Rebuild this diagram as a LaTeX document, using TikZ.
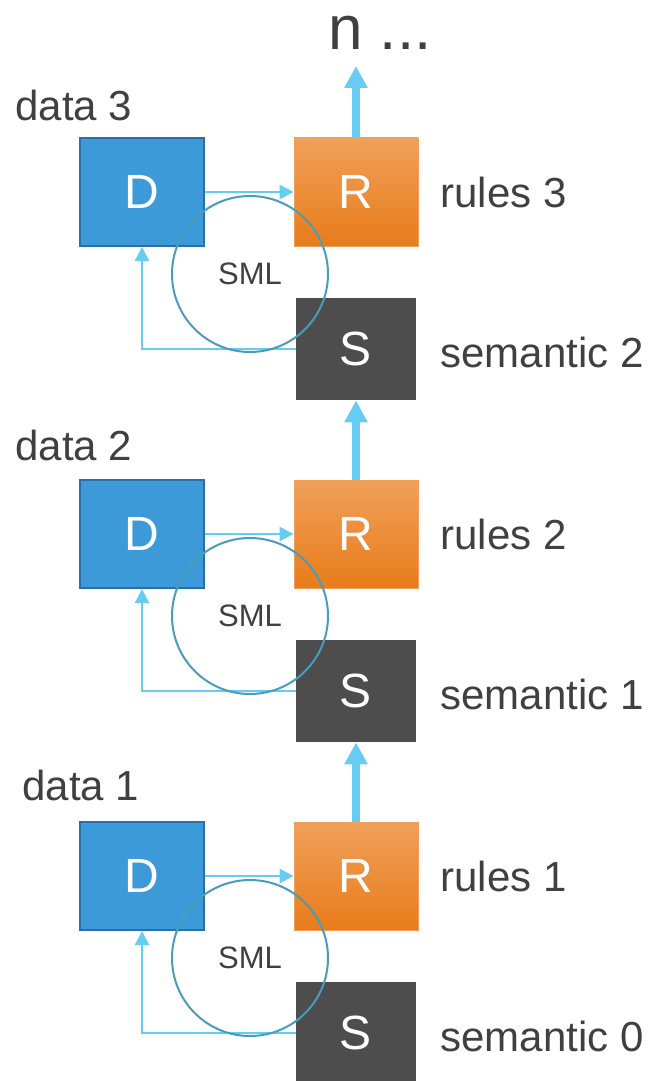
\documentclass[tikz,border=0pt]{standalone}
\usepackage{fontspec}
\setmainfont{Liberation Sans}
\usetikzlibrary{arrows.meta}
\definecolor{dblue}{HTML}{3D9AD9}
\definecolor{dblueline}{HTML}{2B6EA8}
\definecolor{rtop}{HTML}{F0A05A}
\definecolor{rbot}{HTML}{E87C1A}
\definecolor{sgray}{HTML}{4D4D4D}
\definecolor{flow}{HTML}{66CCF2}
\definecolor{smlring}{HTML}{4A9CBA}
\definecolor{txt}{HTML}{404040}
\tikzset{
  box/.style={minimum width=62pt, minimum height=54pt, inner sep=0pt,
              text=white, font=\fontsize{24}{24}\selectfont},
  dbox/.style={box, fill=dblue, draw=dblueline, line width=1pt},
  rbox/.style={box, top color=rtop, bottom color=rbot, draw=rtop},
  sbox/.style={box, fill=sgray, minimum width=60pt, minimum height=51pt},
  lbl/.style={anchor=west, text=txt, inner sep=0pt,
              font=\fontsize{21}{21}\selectfont},
  ring/.style={circle, draw=smlring, line width=1pt, minimum size=78pt,
               inner sep=0pt, text=txt, font=\fontsize{15.5}{15.5}\selectfont},
  thinflow/.style={draw=flow, line width=1.2pt,
                   -{Triangle[length=7pt, width=7pt]}},
  upflow/.style={draw=flow, line width=4pt,
                 -{Triangle[length=11pt, width=11pt]}},
}
\begin{document}
\begin{tikzpicture}[x=0.5pt, y=-0.5pt]
  \useasboundingbox (0,0) rectangle (651,1081);
  %Top text
  \node[anchor=base, text=txt, inner sep=0pt,
        font=\fontsize{31}{31}\selectfont] (ntop) at (380,50) {n ...};
  \coordinate (tip) at (356,66);
  %Data labels
  \node[lbl] (dl3) at (15,105) {data 3};
  \node[lbl] (dl2) at (15,445) {data 2};
  \node[lbl] (dl1) at (22,785) {data 1};
  %Blocks
  \foreach \i/\dy in {3/0, 2/342, 1/684} {
    \pgfmathtruncatemacro\prev{\i-1}
    \node[dbox] (D\i) at (142,192+\dy) {D};
    \node[rbox] (R\i) at (356,192+\dy) {R};
    \node[sbox] (S\prev) at (356,349+\dy) {S};
    \node[lbl] (rl\i) at (440,192+\dy) {rules \i};
    \node[lbl] (sl\prev) at (440,352+\dy) {semantic \prev};
    \draw[thinflow] (D\i.east) -- (R\i.west);
    \draw[thinflow] (S\prev.west) -| (D\i.south);
    \node[ring] (sml\i) at (250,274+\dy) {SML};
  }
  %Upward flows
  \draw[upflow] (R1.north) -- (S1.south);
  \draw[upflow] (R2.north) -- (S2.south);
  \draw[upflow] (R3.north) -- (tip);
\end{tikzpicture}
\end{document}
